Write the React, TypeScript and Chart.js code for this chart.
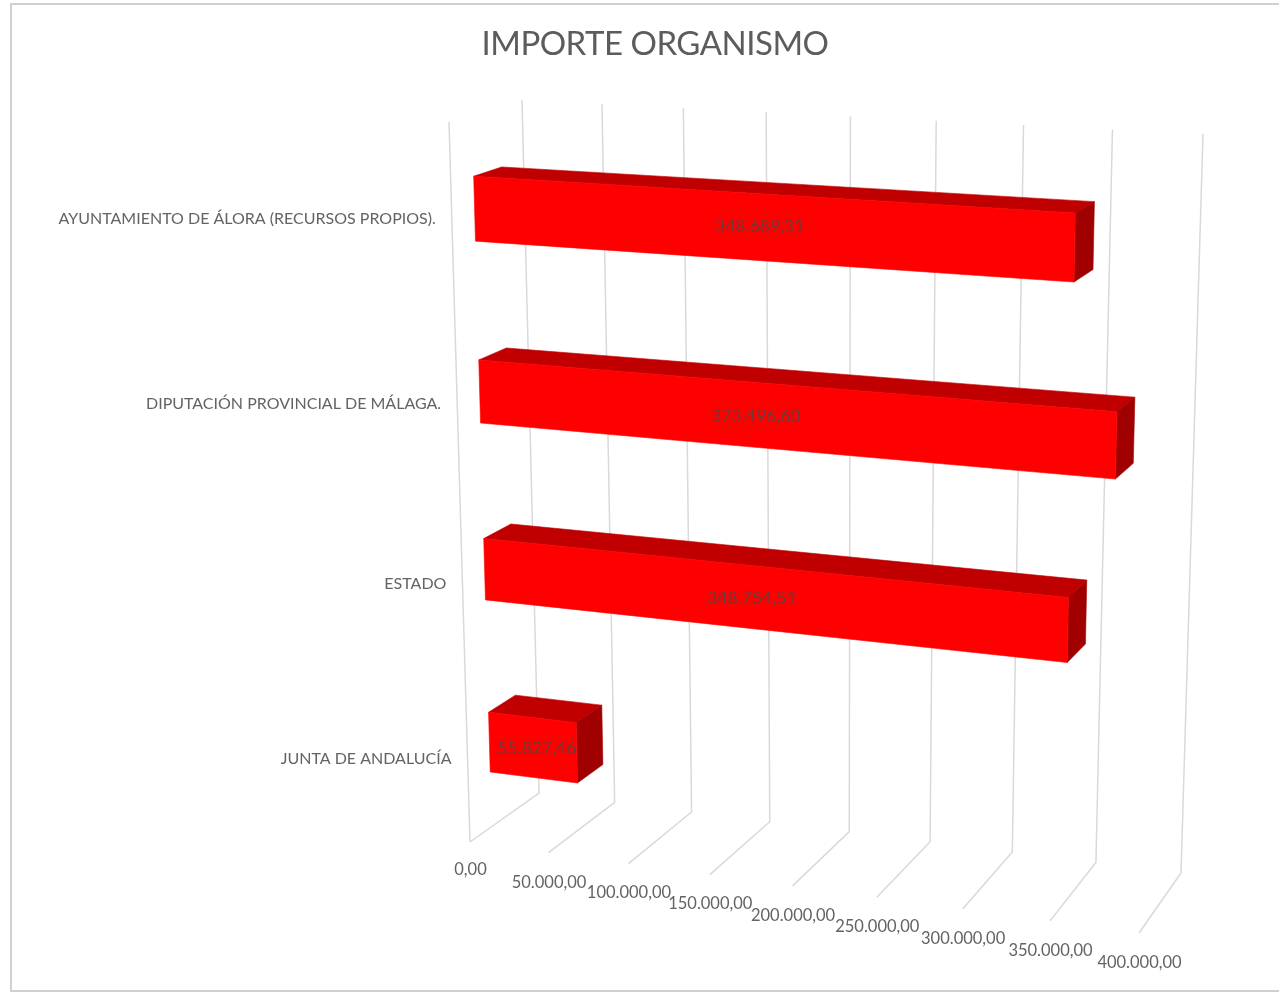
import React, { useEffect, useRef } from "react";
import { Chart, registerables } from "chart.js";

Chart.register(...registerables);

const categories = [
  "AYUNTAMIENTO DE ÁLORA (RECURSOS PROPIOS).",
  "DIPUTACIÓN PROVINCIAL DE MÁLAGA.",
  "ESTADO",
  "JUNTA DE ANDALUCÍA",
];
const importes = [348689.31, 373496.6, 348754.51, 55827.46];
const valueLabels = ["348.689,31", "373.496,60", "348.754,51", "55.827,46"];
const axisMax = 400000;
const axisStep = 50000;
const chartTitle = "IMPORTE ORGANISMO";

type Pt = [number, number];

function unitSquareHomography(p00: Pt, p10: Pt, p11: Pt, p01: Pt) {
  const [x0, y0] = p00, [x1, y1] = p10, [x2, y2] = p11, [x3, y3] = p01;
  const dx1 = x1 - x2, dx2 = x3 - x2, sx = x0 - x1 + x2 - x3;
  const dy1 = y1 - y2, dy2 = y3 - y2, sy = y0 - y1 + y2 - y3;
  const den = dx1 * dy2 - dx2 * dy1;
  const g = (sx * dy2 - dx2 * sy) / den;
  const h = (dx1 * sy - sx * dy1) / den;
  const a = x1 - x0 + g * x1, b = x3 - x0 + h * x3;
  const d = y1 - y0 + g * y1, e = y3 - y0 + h * y3;
  return (u: number, v: number): Pt => {
    const k = g * u + h * v + 1;
    return [(a * u + b * v + x0) / k, (d * u + e * v + y0) / k];
  };
}

// perspective frame of the 3D box: back wall and front plane
const backWall = unitSquareHomography([522, 100], [1203, 134], [1181, 873], [539, 793]);
const frontPlane = unitSquareHomography([449, 122], [1157, 162], [1139, 933], [470, 842]);
const project = (u: number, v: number, d: number): Pt => {
  const a = backWall(u, v), b = frontPlane(u, v);
  return [a[0] + (b[0] - a[0]) * d, a[1] + (b[1] - a[1]) * d];
};
const BAR_BACK = 0.3;
const BAR_FRONT = 0.685;
const BAR_V_SHIFT = 0.0005;
const BAR_U_GAIN = 1.001;
const LABEL_NUDGE_X = [-5, -31, -15, 4];
const LABEL_NUDGE_Y = [-1, -1, 0, 1];
const FONT = "Lato, Carlito, sans-serif";
const TEXT = "#636363";
const GRID = "#D9D9D9";

function poly(ctx: CanvasRenderingContext2D, pts: Pt[], fill: string) {
  ctx.beginPath();
  pts.forEach((p, i) => (i ? ctx.lineTo(p[0], p[1]) : ctx.moveTo(p[0], p[1])));
  ctx.closePath();
  ctx.fillStyle = fill;
  ctx.strokeStyle = fill;
  ctx.lineWidth = 0.6;
  ctx.fill();
  ctx.stroke();
}

const perspectivePlugin = {
  id: "perspective",
  beforeDraw(chart: any) {
    const { ctx, width, height } = chart;
    ctx.save();
    ctx.fillStyle = "#fff";
    ctx.fillRect(0, 0, width, height);
    ctx.strokeStyle = "#D0D0D0";
    ctx.lineWidth = 2;
    ctx.beginPath();
    ctx.moveTo(width + 2, 4);
    ctx.lineTo(11, 4);
    ctx.lineTo(11, 991);
    ctx.lineTo(width + 2, 991);
    ctx.stroke();
    ctx.restore();
    ctx.letterSpacing = "-0.5px"; // tightens the title, which is drawn next
  },
  beforeDatasetsDraw(chart: any) {
    const { ctx, chartArea: ca, scales } = chart;
    const x = scales.x, y = scales.y;
    ctx.letterSpacing = "0px";
    ctx.save();
    ctx.strokeStyle = GRID;
    ctx.lineWidth = 1.5;
    const line = (pts: Pt[]) => {
      ctx.beginPath();
      pts.forEach((p, i) => (i ? ctx.lineTo(p[0], p[1]) : ctx.moveTo(p[0], p[1])));
      ctx.stroke();
    };
    x.ticks.forEach((t: any) => {
      const u = (x.getPixelForValue(t.value) - ca.left) / ca.width;
      line([project(u, 0, 0), project(u, 1, 0), project(u, 1, 1)]);
      if (t.value === 0) line([project(0, 0, 1), project(0, 1, 1)]);
    });
    ctx.fillStyle = TEXT;
    ctx.font = `16.5px ${FONT}`;
    ctx.textAlign = "center";
    ctx.textBaseline = "middle";
    x.ticks.forEach((t: any) => {
      const u = (x.getPixelForValue(t.value) - ca.left) / ca.width;
      const p = project(u, 1, 1);
      ctx.fillText(t.label, p[0] + 0.5, p[1] + (t.value === 0 ? 27.5 : 29.5));
    });
    ctx.font = `16px ${FONT}`;
    ctx.textAlign = "right";
    y.ticks.forEach((t: any, i: number) => {
      const v = (y.getPixelForTick(i) - ca.top) / ca.height;
      const p = project(0, v, 1);
      ctx.fillText(t.label, p[0] - 16, p[1] + 2.5);
    });
    ctx.restore();
  },
  beforeDatasetDraw(chart: any, args: any) {
    const { ctx, chartArea: ca } = chart;
    ctx.save();
    args.meta.data.forEach((el: any) => {
      const u0 = (el.base - ca.left) / ca.width;
      const u1 = ((el.x - ca.left) / ca.width) * BAR_U_GAIN;
      const v0 = (el.y - el.height / 2 - ca.top) / ca.height + BAR_V_SHIFT;
      const v1 = (el.y + el.height / 2 - ca.top) / ca.height + BAR_V_SHIFT;
      const f = BAR_FRONT, b = BAR_BACK;
      poly(ctx, [project(u0, v0, f), project(u1, v0, f), project(u1, v0, b), project(u0, v0, b)], "#C00000");
      poly(ctx, [project(u1, v0, f), project(u1, v0, b), project(u1, v1, b), project(u1, v1, f)], "#A00000");
      poly(ctx, [project(u0, v0, f), project(u1, v0, f), project(u1, v1, f), project(u0, v1, f)], "#FF0000");
    });
    ctx.restore();
    return false;
  },
  afterDatasetsDraw(chart: any) {
    const { ctx, chartArea: ca } = chart;
    const meta = chart.getDatasetMeta(0);
    ctx.save();
    ctx.fillStyle = "#6b3a3a";
    ctx.font = `17.5px ${FONT}`;
    ctx.textAlign = "center";
    ctx.textBaseline = "middle";
    meta.data.forEach((el: any, i: number) => {
      const u = ((el.x + el.base) / 2 - ca.left) / ca.width;
      const v = (el.y - ca.top) / ca.height;
      const p = project(u, v, BAR_FRONT);
      ctx.fillText(valueLabels[i], p[0] + LABEL_NUDGE_X[i], p[1] + LABEL_NUDGE_Y[i]);
    });
    ctx.restore();
  },
};

export default function App() {
  const ref = useRef<HTMLCanvasElement>(null);
  useEffect(() => {
    document.body.style.margin = "0";
    const chart = new Chart(ref.current!, {
      type: "bar",
      data: {
        labels: categories,
        datasets: [
          {
            label: "Importe",
            data: importes,
            backgroundColor: "#FF0000",
            categoryPercentage: 1,
            barPercentage: 0.35,
          },
        ],
      },
      options: {
        indexAxis: "y",
        animation: false,
        responsive: false,
        layout: { padding: { left: 31, top: 0, right: 0, bottom: 100 } },
        plugins: {
          legend: { display: false },
          tooltip: { enabled: false },
          title: {
            display: true,
            text: chartTitle,
            color: "#5c5c5c",
            font: { family: FONT, size: 33, weight: "normal" },
            padding: { top: 25, bottom: 20 },
          },
        },
        scales: {
          x: {
            min: 0,
            max: axisMax,
            ticks: {
              stepSize: axisStep,
              display: false,
              callback: (v: any) =>
                Number(v).toLocaleString("es-ES", {
                  minimumFractionDigits: 2,
                  maximumFractionDigits: 2,
                  useGrouping: "always",
                } as any),
            },
            grid: { display: false },
            border: { display: false },
          },
          y: {
            ticks: { display: false },
            grid: { display: false },
            border: { display: false },
          },
        },
      },
      plugins: [perspectivePlugin],
    } as any);
    return () => chart.destroy();
  }, []);
  return <canvas ref={ref} width={1279} height={995} style={{ display: "block" }} />;
}
